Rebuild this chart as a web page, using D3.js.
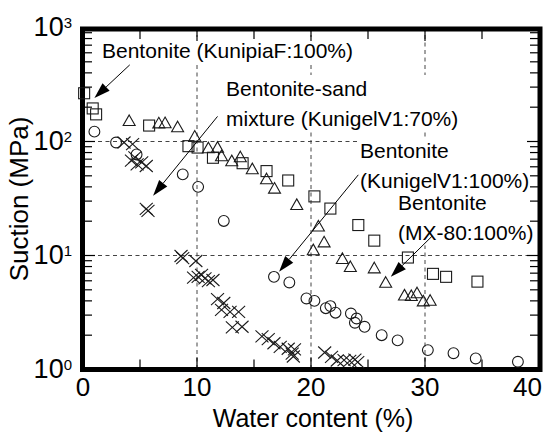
<!DOCTYPE html>
<html>
<head>
<meta charset="utf-8">
<script src="https://cdn.jsdelivr.net/npm/d3@7/dist/d3.min.js"></script>
<style>
  body { margin: 0; background: #fff; }
  svg { display: block; }
  text { font-family: "Liberation Sans", Arial, Helvetica, sans-serif; fill: #000; }
</style>
</head>
<body>
<svg id="chart" width="549" height="434"></svg>
<script>
// Axis ticks
const xTickValues = [0, 10, 20, 30, 40];
const yTickValues = [1, 10, 100, 1000];
const yTickExponents = ["0", "1", "2", "3"];

// Water content (%) vs suction (MPa) for each material
const kunipiaF = [
  [0.1, 265], [0.85, 195], [1.15, 173], [5.8, 138], [9.25, 91], [10.05, 88.5],
  [11.4, 72], [14.0, 64.5], [16.1, 55], [18.0, 45.5], [20.3, 33], [21.7, 25.8],
  [24.15, 18.5], [25.55, 13.5], [28.5, 9.6], [30.7, 6.9], [31.85, 6.5], [34.6, 5.9]
];
const mx80 = [
  [4.05, 151], [6.65, 144], [7.2, 144.5], [8.3, 133], [9.8, 110], [11.0, 87],
  [11.8, 88], [12.15, 74], [13.05, 67], [13.8, 72.5], [14.85, 57], [16.1, 46.5],
  [16.8, 38.5], [18.75, 27.7], [20.65, 17.9], [21.15, 13.0], [20.2, 11.1],
  [22.75, 9.3], [23.45, 7.9], [25.55, 7.7], [26.55, 5.75], [28.2, 4.45],
  [28.8, 4.4], [29.3, 4.65], [29.85, 3.95], [30.45, 4.0]
];
const kunigel100 = [
  [1.0, 122], [2.9, 98], [4.7, 77], [8.75, 51.5], [10.1, 40], [12.35, 20.1],
  [16.75, 6.5], [18.1, 5.8], [19.6, 4.2], [20.3, 4.0], [21.3, 3.45], [21.7, 3.6],
  [22.15, 3.15], [23.5, 3.1], [24.0, 2.8], [23.85, 2.57], [24.7, 2.37],
  [26.2, 2.0], [27.6, 1.8], [30.25, 1.48], [32.5, 1.39], [34.45, 1.25], [38.15, 1.17]
];
const kunigel70 = [
  [3.6, 98], [4.35, 95], [4.55, 72.5], [4.25, 68], [5.15, 65.5], [4.75, 63],
  [5.55, 61], [5.55, 25.6], [5.7, 24.6], [8.6, 9.9], [8.75, 9.5], [9.9, 8.95],
  [9.7, 6.4], [10.1, 6.5], [10.4, 6.75], [10.7, 6.3], [11.0, 5.95], [11.4, 6.1],
  [11.8, 4.15], [12.35, 3.83], [12.15, 3.33], [12.9, 3.2], [13.65, 3.2],
  [13.1, 2.34], [13.95, 2.37], [15.7, 1.95], [16.25, 1.85], [16.75, 1.7],
  [17.3, 1.58], [18.0, 1.52], [18.35, 1.38], [18.55, 1.5], [18.45, 1.3],
  [21.2, 1.41], [21.8, 1.29], [22.3, 1.2], [22.9, 1.21], [23.4, 1.19],
  [23.85, 1.22], [24.1, 1.16]
];

// Callout labels: lines of text, and the arrow from the label to its series
const calloutLines = [
  ["Bentonite (KunipiaF:100%)"],
  ["Bentonite-sand", "mixture (KunigelV1:70%)"],
  ["Bentonite", "(KunigelV1:100%)"],
  ["Bentonite", "(MX-80:100%)"]
];
const calloutArrowTail = [[4.1, 470], [11.8, 166], [24.15, 51], [30.6, 14.7]];
const calloutArrowTip = [[1.0, 241], [6.15, 33.5], [17.2, 7.2], [27.0, 6.5]];

const svg = d3.select("#chart");
const x = d3.scaleLinear().domain([0, 40]).range([83, 539]);
const y = d3.scaleLog().domain([1, 1000]).range([369.5, 27.5]);

// Dashed grid at the labelled ticks inside the frame
const grid = svg.append("g").attr("stroke", "#444").attr("stroke-width", 1)
  .attr("stroke-dasharray", "4,3.5");
[10, 20, 30].forEach(v => grid.append("line")
  .attr("x1", x(v)).attr("x2", x(v)).attr("y1", y(1000)).attr("y2", y(1)));
[10, 100].forEach(v => grid.append("line")
  .attr("x1", x(0)).attr("x2", x(40)).attr("y1", y(v)).attr("y2", y(v)));

// Callout text with white backing boxes
const calloutX = [102, 226, 360, 398];
const calloutY = [58, 96, 158, 210];
const lineGap = 29.5;
const boxLayer = svg.append("g");
const textLayer = svg.append("g");
const boxes = [];
calloutLines.forEach((lines, i) => {
  const t = textLayer.append("text").attr("font-size", 21);
  lines.forEach((s, j) => t.append("tspan")
    .attr("x", calloutX[i]).attr("y", calloutY[i] + j * lineGap).text(s));
  boxes.push(t.node().getBBox());
});
boxes.forEach(bb => boxLayer.append("rect")
  .attr("x", bb.x - 3).attr("y", bb.y - 2)
  .attr("width", bb.width + 6).attr("height", bb.height + 4)
  .attr("fill", "#fff"));

// Frame and inward ticks
const frame = svg.append("g").attr("stroke", "#000");
frame.append("rect")
  .attr("x", 82.5).attr("y", 29).attr("width", 457.5).attr("height", 340.5)
  .attr("fill", "none").attr("stroke-width", 5);
const tickG = frame.append("g").attr("stroke-width", 1.2);
const xMinor = [5, 15, 25, 35];
const xMajor = [10, 20, 30];
xMinor.concat(xMajor).forEach(v => {
  const len = xMajor.includes(v) ? 12 : 10;
  tickG.append("line").attr("x1", x(v)).attr("x2", x(v))
    .attr("y1", y(1)).attr("y2", y(1) - len);
  tickG.append("line").attr("x1", x(v)).attr("x2", x(v))
    .attr("y1", 29).attr("y2", 29 + len);
});
const yMinor = [];
[1, 10, 100].forEach(d => { for (let k = 2; k <= 9; k++) yMinor.push(k * d); });
yMinor.concat([10, 100]).forEach(v => {
  const len = (v === 10 || v === 100) ? 11 : 8;
  tickG.append("line").attr("x1", 83).attr("x2", 84 + len)
    .attr("y1", y(v)).attr("y2", y(v));
  tickG.append("line").attr("x1", 539).attr("x2", 538 - len)
    .attr("y1", y(v)).attr("y2", y(v));
});

// Tick labels (the last one is pulled in so it stays on the page)
svg.append("g").selectAll("text").data(xTickValues).join("text")
  .attr("x", (d, i) => i === xTickValues.length - 1 ? 542 : x(d))
  .attr("y", 396)
  .attr("text-anchor", (d, i) => i === xTickValues.length - 1 ? "end" : "middle")
  .attr("font-size", 26).text(d => d);
const yLab = svg.append("g").selectAll("text").data(yTickValues).join("text")
  .attr("x", 72).attr("y", d => y(d) + 8).attr("text-anchor", "end")
  .attr("font-size", 27);
yLab.append("tspan").text("10");
yLab.append("tspan").attr("font-size", 15).attr("dy", -8)
  .text((d, i) => yTickExponents[i]);

// Axis titles
svg.append("text").attr("x", 313).attr("y", 427).attr("text-anchor", "middle")
  .attr("font-size", 25).text("Water content (%)");
svg.append("text").attr("transform", "translate(28,199) rotate(-90)")
  .attr("text-anchor", "middle").attr("font-size", 26).text("Suction (MPa)");

// Data markers
const marks = svg.append("g").attr("fill", "none").attr("stroke", "#1a1a1a")
  .attr("stroke-width", 1.1);
marks.append("g").selectAll("path").data(mx80).join("path")
  .attr("transform", d => `translate(${x(d[0])},${y(d[1])})`)
  .attr("d", "M0,-6.2L6,4.4L-6,4.4Z");
marks.append("g").selectAll("rect").data(kunipiaF).join("rect")
  .attr("x", d => x(d[0]) - 5.5).attr("y", d => y(d[1]) - 5.5)
  .attr("width", 11).attr("height", 11);
marks.append("g").selectAll("circle").data(kunigel100).join("circle")
  .attr("cx", d => x(d[0])).attr("cy", d => y(d[1])).attr("r", 5.4);
marks.append("g").selectAll("path").data(kunigel70).join("path")
  .attr("transform", d => `translate(${x(d[0])},${y(d[1])})`)
  .attr("d", "M-6.5,-6L6.5,6M-6.5,6L6.5,-6");

// Callout arrows
const arrows = svg.append("g");
calloutArrowTail.forEach((tail, i) => {
  const x0 = x(tail[0]), y0 = y(tail[1]);
  const x1 = x(calloutArrowTip[i][0]), y1 = y(calloutArrowTip[i][1]);
  const a = Math.atan2(y1 - y0, x1 - x0);
  const L = 16, W = 5.2;
  const bx = x1 - L * Math.cos(a), by = y1 - L * Math.sin(a);
  arrows.append("line").attr("x1", x0).attr("y1", y0).attr("x2", bx).attr("y2", by)
    .attr("stroke", "#000").attr("stroke-width", 1);
  arrows.append("path")
    .attr("d", `M${x1},${y1}L${bx - W * Math.sin(a)},${by + W * Math.cos(a)}L${bx + W * Math.sin(a)},${by - W * Math.cos(a)}Z`)
    .attr("fill", "#000");
});
textLayer.raise();
</script>
</body>
</html>
